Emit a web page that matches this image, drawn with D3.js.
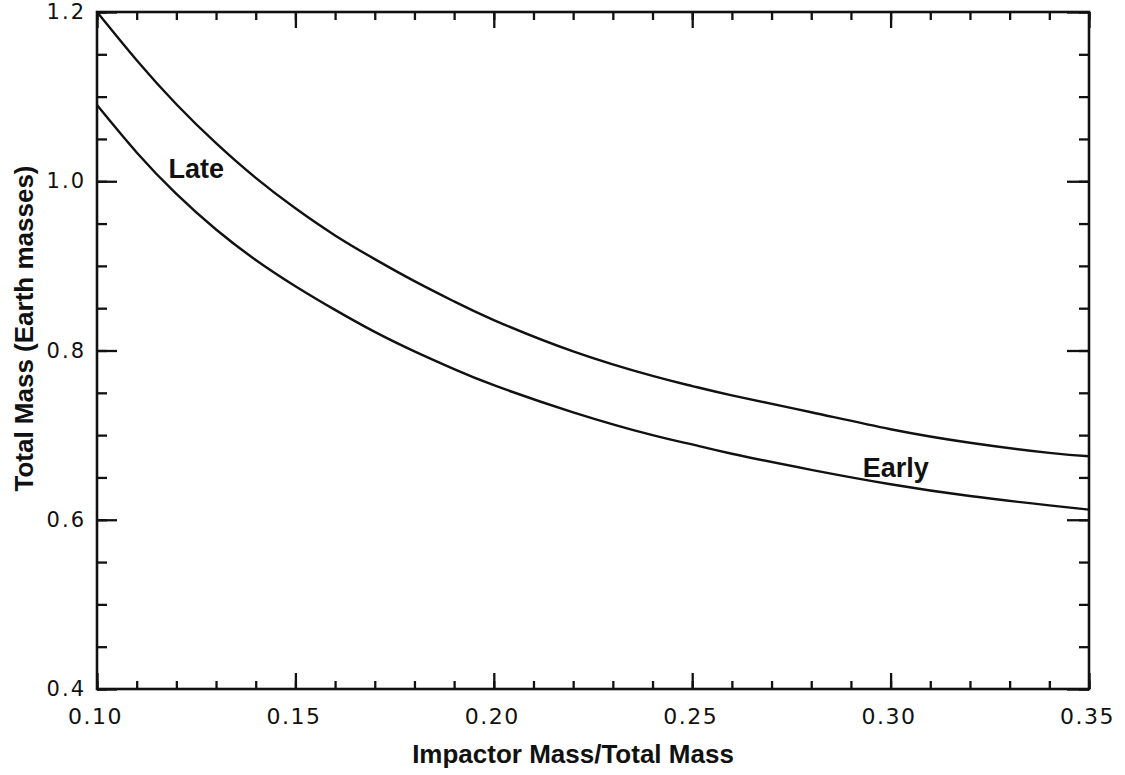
<!DOCTYPE html>
<html>
<head>
<meta charset="utf-8">
<script src="https://cdn.jsdelivr.net/npm/d3@7"></script>
<style>
  body { margin: 0; background: #fff; }
  .tick text { font-family: "DejaVu Sans", sans-serif; fill: #111; }
  .title { font-family: "Liberation Sans", Arial, sans-serif; font-weight: bold; fill: #111; }
</style>
</head>
<body>
<div id="vis"></div>
<script>
// impactor mass / total mass
var ratio = [0.10, 0.11, 0.12, 0.13, 0.14, 0.15, 0.16, 0.17, 0.18, 0.19, 0.20,
             0.22, 0.24, 0.25, 0.26, 0.28, 0.30, 0.32, 0.34, 0.35];
// total mass, earth masses
var lateMass  = [1.200, 1.143, 1.091, 1.045, 1.004, 0.968, 0.936, 0.908, 0.882, 0.858, 0.836,
                 0.799, 0.770, 0.758, 0.747, 0.727, 0.707, 0.691, 0.679, 0.675];
var earlyMass = [1.090, 1.034, 0.985, 0.943, 0.907, 0.876, 0.848, 0.822, 0.799, 0.778, 0.759,
                 0.727, 0.700, 0.689, 0.678, 0.659, 0.642, 0.628, 0.617, 0.612];

var xTicks = [0.10, 0.15, 0.20, 0.25, 0.30, 0.35];
var yTicks = [0.4, 0.6, 0.8, 1.0, 1.2];
var curveNames = ["Late", "Early"];
var labelAt = [[0.118, 1.004], [0.293, 0.650]];

var w = 1125, h = 775;
var pLeft = 97, pRight = 1089, pTop = 12, pBottom = 689;

var x = d3.scaleLinear().domain([0.10, 0.35]).range([pLeft, pRight]);
var y = d3.scaleLinear().domain([0.4, 1.2]).range([pBottom, pTop]);

var svg = d3.select("#vis").append("svg")
  .attr("width", w)
  .attr("height", h);

// minor ticks every 0.01 on x, every 0.05 on y
var xMinor = d3.range(0.10, 0.3501, 0.01);
var yMinor = d3.range(0.4, 1.2001, 0.05);

function minorAxis(axis, vals, size) {
  return axis.tickValues(vals).tickSize(-size).tickFormat("");
}

svg.append("g").attr("transform", "translate(0," + pBottom + ")")
  .call(minorAxis(d3.axisBottom(x), xMinor, 8));
svg.append("g").attr("transform", "translate(0," + pTop + ")")
  .call(minorAxis(d3.axisTop(x), xMinor, 8));
svg.append("g").attr("transform", "translate(" + pLeft + ",0)")
  .call(minorAxis(d3.axisLeft(y), yMinor, 10));
svg.append("g").attr("transform", "translate(" + pRight + ",0)")
  .call(minorAxis(d3.axisRight(y), yMinor, 10));

// major ticks
var xAxis = svg.append("g").attr("transform", "translate(0," + pBottom + ")")
  .call(d3.axisBottom(x).tickValues(xTicks).tickSize(-16).tickPadding(19)
    .tickFormat(d3.format(".2f")));
xAxis.selectAll("text").style("font-size", "22px").style("letter-spacing", "1.5px")
  .attr("dx", -2);

svg.append("g").attr("transform", "translate(0," + pTop + ")")
  .call(d3.axisTop(x).tickValues(xTicks).tickSize(-16).tickFormat(""));

var yAxis = svg.append("g").attr("transform", "translate(" + pLeft + ",0)")
  .call(d3.axisLeft(y).tickValues(yTicks).tickSize(-20).tickPadding(11)
    .tickFormat(d3.format(".1f")));
yAxis.selectAll("text").style("font-size", "21px").style("letter-spacing", "2px");

svg.append("g").attr("transform", "translate(" + pRight + ",0)")
  .call(d3.axisRight(y).tickValues(yTicks).tickSize(-22).tickFormat(""));

svg.selectAll(".domain").remove();
svg.selectAll(".tick line").attr("stroke", "#111").attr("stroke-width", 2.3);

// frame
svg.append("rect")
  .attr("x", pLeft).attr("y", pTop)
  .attr("width", pRight - pLeft).attr("height", pBottom - pTop)
  .attr("fill", "none")
  .attr("stroke", "#111")
  .attr("stroke-width", 2.6);

// curves
var line = d3.line()
  .x(function(d) { return x(d[0]); })
  .y(function(d) { return y(d[1]); })
  .curve(d3.curveNatural);

[lateMass, earlyMass].forEach(function(series) {
  svg.append("path")
    .datum(ratio.map(function(r, i) { return [r, series[i]]; }))
    .attr("d", line)
    .attr("fill", "none")
    .attr("stroke", "#111")
    .attr("stroke-width", 2.4);
});

svg.selectAll(".curve-label")
  .data(curveNames)
  .enter().append("text")
    .attr("class", "title")
    .attr("x", function(d, i) { return x(labelAt[i][0]); })
    .attr("y", function(d, i) { return y(labelAt[i][1]); })
    .style("font-size", "27px")
    .text(function(d) { return d; });

// axis titles
svg.append("text")
  .attr("class", "title")
  .attr("x", (pLeft + pRight) / 2 - 20)
  .attr("y", 763)
  .attr("text-anchor", "middle")
  .style("font-size", "26px")
  .text("Impactor Mass/Total Mass");

svg.append("text")
  .attr("class", "title")
  .attr("transform", "translate(33," + ((pTop + pBottom) / 2 - 22) + ") rotate(-90)")
  .attr("text-anchor", "middle")
  .style("font-size", "26px")
  .text("Total Mass (Earth masses)");
</script>
</body>
</html>
